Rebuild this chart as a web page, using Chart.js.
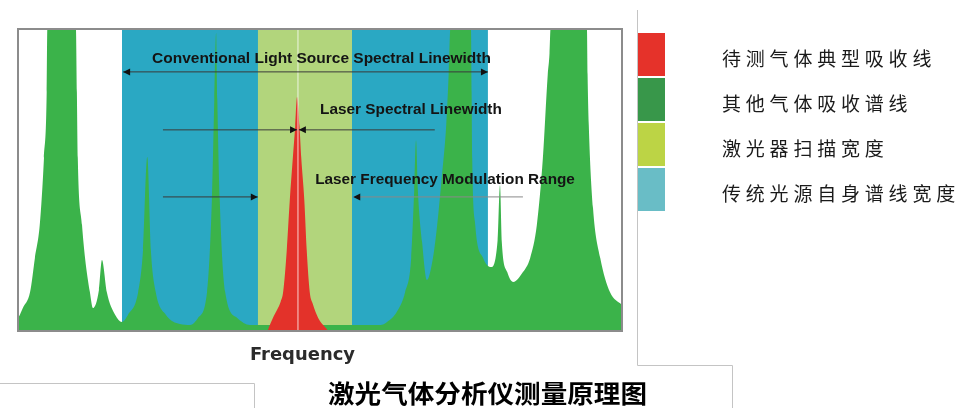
<!DOCTYPE html>
<html>
<head>
<meta charset="utf-8">
<script src="https://cdn.jsdelivr.net/npm/chart.js@4"></script>
<style>
  body { margin: 0; background: #fff; }
  #wrap { width: 961px; height: 408px; }
</style>
</head>
<body>
<div id="wrap"><canvas id="spectrum" width="961" height="408"></canvas></div>
<script>
// absorption of other gases (green), frequency in arbitrary units 0..100
const greenFreq = [0, 0.3, 0.8, 2.0, 2.8, 3.6, 4.3, 4.75, 4.85, 7.2, 9.6, 9.75, 9.9, 10.6, 11.1, 11.9, 12.4, 13.4, 13.9, 14.7, 16.1, 17.2,
    18.2, 19.9, 20.7, 21.4, 22.0, 22.8, 24.5, 26.8, 28.5, 29.8, 31.3, 32.1, 32.5, 32.8, 33.0, 33.4, 34.3, 36.3, 38.4, 60.0,
    61.1, 62.7, 64.1, 65.1, 65.6, 65.9, 66.2, 66.9, 67.7, 68.7, 69.4, 70.2, 70.9, 71.3, 71.55, 73.3, 75.0, 75.1, 75.2, 75.7,
    77.0, 78.3, 79.4, 79.8, 80.1, 81.0, 82.0, 83.6, 84.8, 85.9, 86.9, 87.7, 88.0, 88.15, 91.1, 94.2, 94.3, 94.5, 95.2, 96.4, 98.0, 100];
const greenAbs = [4.3, 5.3, 7.6, 12.9, 24.2, 35.1, 57.3, 79.1, 100, 140, 100, 79, 57.3, 35.1, 24.2, 12.9, 7.6, 13.6, 23.5, 12.9, 5.3, 3.0,
    5.3, 12.9, 26.8, 57.6, 26.8, 12.9, 5.3, 2.3, 2.0, 4.3, 12.9, 43.4, 76.5, 98.7, 76.5, 43.4, 12.9, 4.3, 2.0, 2.0,
    3.0, 6.3, 12.9, 24.2, 46.7, 63.2, 46.7, 29.5, 16.9, 24.2, 35.1, 51.7, 68.2, 85, 100, 140, 100, 79, 57.3, 35.1,
    24.2, 21.2, 30, 48.3, 29.5, 19.5, 16.2, 19.5, 24.2, 35.1, 57.3, 84.8, 92, 100, 140, 100, 85, 68.2, 40.7, 24.2, 12.9, 8.6];

// typical absorption line of the measured gas (red)
const redFreq = [41.4, 42.2, 42.9, 43.5, 43.9, 44.5, 45.0, 45.5, 45.9, 46.2, 46.6, 46.9, 47.4, 47.8, 48.3, 48.8, 49.7, 51.2];
const redAbs = [0.5, 4.3, 7.0, 9.8, 12.9, 26.8, 43.4, 57.3, 68.0, 77.5, 68.0, 57.3, 43.4, 26.8, 12.9, 9.0, 4.3, 0.5];

// frequency ranges
const sourceRange = [17.2, 77.8];   // conventional light source linewidth
const scanRange = [39.7, 55.3];     // laser scan width

const legendLabels = ["待测气体典型吸收线", "其他气体吸收谱线", "激光器扫描宽度", "传统光源自身谱线宽度"];
const legendColors = ["#e5322a", "#38974a", "#bcd445", "#69bdc6"];

const axisTitle = "Frequency";
const chartTitle = "激光气体分析仪测量原理图";

// arrows: label, label span, label height, arrow height, arrow segments
const notes = [
    {text: "Conventional Light Source Spectral Linewidth", from: 22.2, to: 78.3, at: 90.1,
     y: 85.8, lines: [[17.4, 77.8, "both"]]},
    {text: "Laser Spectral Linewidth", from: 50.0, to: 80.1, at: 73.2,
     y: 66.6, lines: [[24.0, 46.2, "end"], [46.5, 69.0, "start"]]},
    {text: "Laser Frequency Modulation Range", from: 49.2, to: 92.2, at: 50.0,
     y: 44.4, lines: [[24.0, 39.7, "end"], [55.5, 83.6, "start"]]}
];

function zip(xs, ys){
    return xs.map((v, i) => ({x: v, y: ys[i]}));
}

function band(range){
    return [{x: range[0], y: 100}, {x: range[1], y: 100}];
}

function head(ctx, x, y, dir){
    ctx.beginPath();
    ctx.moveTo(x, y);
    ctx.lineTo(x - dir * 7, y - 3.5);
    ctx.lineTo(x - dir * 7, y + 3.5);
    ctx.closePath();
    ctx.fill();
}

function fitText(ctx, str, left, right, cy){
    const w = ctx.measureText(str).width;
    ctx.save();
    ctx.translate(left, cy);
    ctx.scale((right - left) / w, 1);
    ctx.fillText(str, 0, 0);
    ctx.restore();
}

const overlay = {
    id: "overlay",
    afterDatasetsDraw(chart){
        const {ctx, chartArea: a, scales: {x, y}} = chart;
        ctx.save();

        // thin center line of laser
        const cx = x.getPixelForValue(46.35);
        ctx.strokeStyle = "rgba(255,255,255,0.65)";
        ctx.lineWidth = 1.2;
        ctx.beginPath();
        ctx.moveTo(cx, a.top);
        ctx.lineTo(cx, a.bottom);
        ctx.stroke();

        notes.forEach((n, k) => {
            const py = y.getPixelForValue(n.y);
            n.lines.forEach((seg, j) => {
                const x1 = x.getPixelForValue(seg[0]);
                const x2 = x.getPixelForValue(seg[1]);
                const col = (k == 2 && j == 1) ? "#8a8a8a" : "#3a3a3a";
                ctx.strokeStyle = col;
                ctx.fillStyle = "#111";
                ctx.lineWidth = 1;
                ctx.beginPath();
                ctx.moveTo(x1, py);
                ctx.lineTo(x2, py);
                ctx.stroke();
                if(seg[2] == "both" || seg[2] == "start") head(ctx, x1, py, -1);
                if(seg[2] == "both" || seg[2] == "end") head(ctx, x2, py, 1);
            });
            ctx.fillStyle = "#141414";
            ctx.font = "bold 15px 'Liberation Sans', sans-serif";
            ctx.textBaseline = "middle";
            fitText(ctx, n.text, x.getPixelForValue(n.from), x.getPixelForValue(n.to), y.getPixelForValue(n.at));
        });

        // frame
        ctx.strokeStyle = "#8c8c8c";
        ctx.lineWidth = 2;
        ctx.strokeRect(a.left, a.top, a.right - a.left, a.bottom - a.top);
        ctx.restore();
    },
    afterDraw(chart){
        const {ctx} = chart;
        ctx.save();

        // leftover boxes of the original figure
        ctx.strokeStyle = "#c4c4c4";
        ctx.lineWidth = 1;
        ctx.beginPath();
        ctx.moveTo(637.5, 10);
        ctx.lineTo(637.5, 365.5);
        ctx.lineTo(732.5, 365.5);
        ctx.lineTo(732.5, 408);
        ctx.moveTo(0, 383.5);
        ctx.lineTo(254.5, 383.5);
        ctx.lineTo(254.5, 408);
        ctx.stroke();

        // legend
        legendLabels.forEach((lab, i) => {
            const top = 33 + i * 45;
            ctx.fillStyle = legendColors[i];
            ctx.fillRect(638, top, 27, 43);
            ctx.fillStyle = "#1a1a1a";
            ctx.font = "19px 'Noto Sans CJK SC'";
            ctx.letterSpacing = "4.8px";
            ctx.textBaseline = "middle";
            ctx.fillText(lab, 722, top + 26);
        });

        ctx.letterSpacing = "0px";
        ctx.fillStyle = "#2b2b2b";
        ctx.font = "bold 18px 'DejaVu Sans'";
        ctx.textBaseline = "middle";
        fitText(ctx, axisTitle, 250, 355, 355);

        ctx.fillStyle = "#000";
        ctx.font = "bold 25px 'Noto Sans CJK SC'";
        fitText(ctx, chartTitle, 328, 647, 393);
        ctx.restore();
    }
};

new Chart(
    document.getElementById("spectrum"),
    {
        type: "line",
        data: {
            datasets: [
                {
                    label: legendLabels[0],
                    data: zip(redFreq, redAbs),
                    backgroundColor: "#e3322a",
                    borderWidth: 0,
                    fill: "origin",
                    cubicInterpolationMode: "monotone",
                    order: 1
                },
                {
                    label: legendLabels[1],
                    data: zip(greenFreq, greenAbs),
                    backgroundColor: "#3bb34a",
                    borderWidth: 0,
                    fill: "origin",
                    cubicInterpolationMode: "monotone",
                    order: 2
                },
                {
                    label: legendLabels[2],
                    data: band(scanRange),
                    backgroundColor: "#b2d57c",
                    borderWidth: 0,
                    fill: "origin",
                    order: 3
                },
                {
                    label: legendLabels[3],
                    data: band(sourceRange),
                    backgroundColor: "#2aa8c3",
                    borderWidth: 0,
                    fill: "origin",
                    order: 4
                }
            ]
        },
        options: {
            responsive: false,
            animation: false,
            layout: {padding: {left: 18, top: 29, right: 339, bottom: 77}},
            elements: {point: {radius: 0}},
            scales: {
                x: {type: "linear", min: 0, max: 100, display: false},
                y: {min: 0, max: 100, display: false}
            },
            plugins: {
                legend: {display: false},
                tooltip: {enabled: false}
            }
        },
        plugins: [overlay]
    }
);
</script>
</body>
</html>
